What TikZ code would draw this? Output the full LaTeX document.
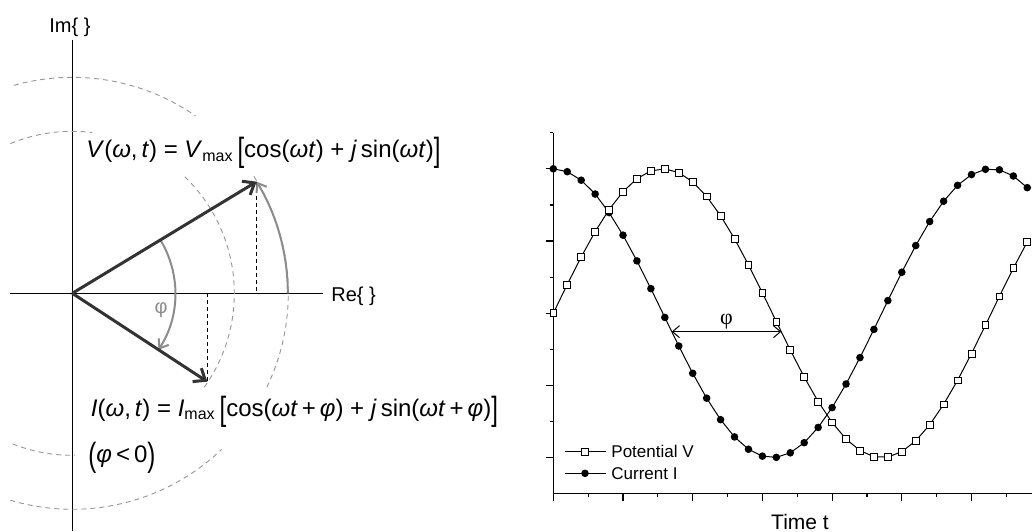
\documentclass[tikz,border=0pt]{standalone}
\usepackage{fontspec}
\setmainfont{Liberation Sans}
\newfontfamily\phiserif{Liberation Serif}
\usepackage{graphicx}
\usetikzlibrary{arrows.meta, positioning}
\definecolor{vecgray}{RGB}{51,51,51}
\definecolor{arcgray}{RGB}{140,140,140}
\definecolor{ringgray}{RGB}{150,150,150}
\newcommand{\mv}[1]{\textit{#1}}
\newcommand{\bigbr}[1]{\raisebox{-0.18em}{\scalebox{1}[1.4]{#1}}}

\begin{document}
\begin{tikzpicture}[x=0.5pt, y=0.5pt,
        axisline/.style={draw=black, line width=0.65pt},
        phasor/.style={draw=vecgray, line width=1.5pt, -{Straight Barb[length=5pt, width=8pt]}},
        swing/.style={draw=arcgray, line width=1pt, -{Straight Barb[length=4pt, width=6pt]}},
        ring/.style={draw=ringgray, line width=0.45pt, dash pattern=on 2.5pt off 2pt},
        proj/.style={draw=black, line width=0.5pt, dash pattern=on 2pt off 1.5pt},
        formula/.style={inner sep=0pt, anchor=base west, font=\fontsize{12}{14}\selectfont},
        axlabel/.style={inner sep=0pt, font=\fontsize{10}{12}\selectfont},
        tickmark/.style={draw=black, line width=0.6pt},
        wave/.style={draw=black, line width=0.5pt},
        vmark/.style={draw=black, fill=white, line width=0.4pt},
        legendtext/.style={inner sep=0pt, anchor=west, font=\fontsize{8.5}{10}\selectfont}
    ]
    \useasboundingbox (0,0) rectangle (1032,531);

    % phasor diagram
    \coordinate (O) at (72.3,237.7);
    \coordinate (reL) at (10,237.7);
    \coordinate (reR) at (322.5,237.7);
    \coordinate (imB) at (72.3,0);
    \coordinate (imT) at (72.3,491);
    \draw[axisline] (reL) -- (reR);
    \draw[axisline] (imB) -- (imT);
    \node[axlabel, anchor=base] (imlab) at (70,498.5) {Im\{ \}};
    \node[axlabel, anchor=base west] (relab) at (331,229.5) {Re\{ \}};

    % amplitude circles
    \draw[ring] (O) ++(112.5:162) arc (112.5:83:162);
    \draw[ring] (O) ++(46:162) arc (46:-36:162);
    \draw[ring] (O) ++(248.4:162) arc (248.4:271:162);
    \draw[ring] (O) ++(105.7:216) arc (105.7:55.2:216);
    \draw[ring] (O) ++(32.8:216) arc (32.8:-25.7:216);
    \draw[ring] (O) ++(253.3:216) arc (253.3:313.7:216);

    \path (O) ++(31.2:215.5) coordinate (Vtip);
    \path (O) ++(-33.2:161.4) coordinate (Itip);
    \draw[proj] (Vtip) -- (Vtip |- O);
    \draw[proj] (Itip |- O) -- (Itip);
    \draw[swing] (O) ++(0:215.5) arc (0:31.2:215.5);
    \draw[swing] (O) ++(31.2:103) arc (31.2:-33.2:103);
    \draw[phasor] (O) -- (Vtip);
    \draw[phasor] (O) -- (Itip);
    \node[axlabel, text=arcgray] (philab) at (161,221) {φ};

    \node[formula] (vform) at (86,373.5) {\mv{V}(\mv{ω},\,\mv{t}) = \mv{V}\textsubscript{max}\,\bigbr{[}cos(\mv{ωt}) + \mv{j}\,sin(\mv{ωt})\bigbr{]}};
    \node[formula] (iform) at (90.5,115) {\mv{I}(\mv{ω},\,\mv{t}) = \mv{I}\textsubscript{max}\,\bigbr{[}cos(\mv{ωt}\,+\,\mv{φ}) + \mv{j}\,sin(\mv{ωt}\,+\,\mv{φ})\bigbr{]}};
    \node[formula] (sign) at (88,69) {\bigbr{(}\mv{φ}\,<\,0\bigbr{)}};

    % time plot
    \begin{scope}[shift={(553.3,217.8)}, x=34.85pt, y=72.2pt]
        \draw[axisline] (0,1.25) -- (0,-1.25) -- (6.9,-1.25);
        \foreach \t in {0,...,6}
            \draw[tickmark] (\t,-1.25) -- ++(0pt,-3.6pt);
        \foreach \t in {0.5,1.5,...,6.5}
            \draw[tickmark] (\t,-1.25) -- ++(0pt,-1.8pt);
        \foreach \v in {-1,-0.5,0,0.5,1}
            \draw[tickmark] (0,\v) -- ++(-3.6pt,0pt);
        \foreach \v in {-0.75,-0.25,0.25,0.75,1.25}
            \draw[tickmark] (0,\v) -- ++(-1.8pt,0pt);

        \draw[wave] plot[domain=0:6.8, samples=35] (\x,{cos(\x r)});
        \draw[wave] plot[domain=0:6.8, samples=35] (\x,{sin(\x r)});
        \foreach \i in {0,...,34}
            \fill ({0.2*\i},{cos(0.2*\i r)}) circle[radius=1.9pt];
        \foreach \i in {0,...,34}
            \filldraw[vmark] ({0.2*\i},{sin(0.2*\i r)}) +(-1.7pt,-1.7pt) rectangle +(1.7pt,1.7pt);

        \coordinate (phiA) at (1.699,-0.128);
        \coordinate (phiB) at (3.270,-0.128);
        \draw[wave, {Straight Barb[length=3.5pt, width=6pt]}-{Straight Barb[length=3.5pt, width=6pt]}] (phiA) -- node[above=1.2pt, inner sep=0pt, font=\phiserif\fontsize{11}{12}\selectfont] (phishift) {φ} (phiB);

        % legend
        \coordinate (legVa) at (0.168,-0.959);
        \coordinate (legVb) at (0.756,-0.959);
        \coordinate (legIa) at (0.168,-1.109);
        \coordinate (legIb) at (0.756,-1.109);
        \draw[wave] (legVa) -- (legVb);
        \draw[wave] (legIa) -- (legIb);
        \filldraw[vmark] (0.455,-0.959) +(-1.7pt,-1.7pt) rectangle +(1.7pt,1.7pt);
        \fill (0.455,-1.109) circle[radius=1.9pt];
        \node[legendtext] (legV) at (0.828,-0.959) {Potential V};
        \node[legendtext] (legI) at (0.828,-1.109) {Current I};
    \end{scope}
    \node[axlabel, anchor=base, font=\fontsize{10.5}{12}\selectfont] (timelab) at (800,2) {Time t};
\end{tikzpicture}
\end{document}
